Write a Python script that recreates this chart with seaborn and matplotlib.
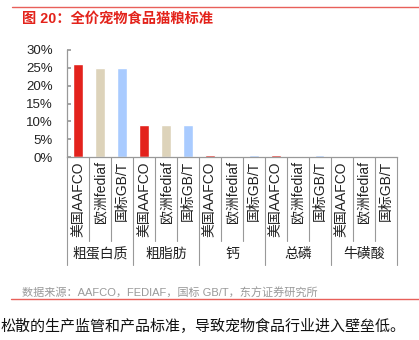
import matplotlib
matplotlib.use("Agg")
import matplotlib.pyplot as plt
import matplotlib.transforms as mtransforms
from matplotlib.ticker import PercentFormatter
import seaborn as sns
import pandas as pd

groups = ["粗蛋白质", "粗脂肪", "钙", "总磷", "牛磺酸"]
standards = ["美国AAFCO", "欧洲fediaf", "国标GB/T"]
protein = [26.0, 25.0, 25.0]
fat = [9.0, 9.0, 9.0]
calcium = [0.6, 0.3, 0.6]
phosphorus = [0.5, 0.26, 0.5]
taurine = [0.1, 0.1, 0.1]
yticks = [0, 5, 10, 15, 20, 25, 30]
colors = {"美国AAFCO": "#E3221C", "欧洲fediaf": "#DDD3BA", "国标GB/T": "#A9CBFF"}

values = [protein, fat, calcium, phosphorus, taurine]
rows = []
for g, vals in zip(groups, values):
    for s, v in zip(standards, vals):
        rows.append({"key": f"{g}|{s}", "group": g, "standard": s, "value": v})
df = pd.DataFrame(rows)

sns.set_theme(style="white")
plt.rcParams["font.family"] = ["Liberation Sans", "Noto Sans CJK SC", "DejaVu Sans"]

fig = plt.figure(figsize=(4.19, 3.40), dpi=100)
ax = fig.add_axes([0.160, 0.538, 0.787, 0.315])

sns.barplot(data=df, x="key", y="value", hue="standard", order=list(df["key"]),
            palette=colors, dodge=False, width=0.42, ax=ax, legend=False,
            saturation=1)

ax.set_ylim(0, 30)
ax.set_xlim(-0.5, len(df) - 0.5)
ax.set_yticks(yticks)
ax.yaxis.set_major_formatter(PercentFormatter(decimals=0))
ax.set_xlabel("")
ax.set_ylabel("")
ax.set_xticks(range(len(df)))
ax.set_xticklabels(df["standard"], rotation=90, fontsize=10, color="#222222")
ax.tick_params(axis="x", length=0, pad=3)
ax.tick_params(axis="y", direction="in", length=3, color="#999999", labelsize=9.5,
               labelcolor="#222222", pad=10, left=True)
for sp in ["top", "right"]:
    ax.spines[sp].set_visible(False)
for sp in ["left", "bottom"]:
    ax.spines[sp].set_color("#999999")
    ax.spines[sp].set_linewidth(0.9)

trans = mtransforms.blended_transform_factory(ax.transData, ax.transAxes)
n = len(df)
for i in range(n + 1):
    x = i - 0.5
    if i % 3 == 0:
        ax.plot([x, x], [0, -1.01], transform=trans, color="#999999", lw=0.8, clip_on=False)
    else:
        ax.plot([x, x], [0, -0.78], transform=trans, color="#999999", lw=0.8, clip_on=False)
for gi, g in enumerate(groups):
    ax.text(gi * 3 + 1, -0.90, g, transform=trans, ha="center", va="center",
            fontsize=10, color="#222222")

# header / footer
fig.add_artist(plt.Line2D([0.029, 1.0], [0.979, 0.979], color="#E8605A", lw=1.0))
fig.text(0.053, 0.946, "图 20：全价宠物食品猫粮标准", color="#E3231B", fontsize=10.3,
         fontweight="bold", ha="left", va="center")
fig.text(0.053, 0.138, "数据来源：AAFCO，FEDIAF，国标 GB/T，东方证券研究所", color="#999999",
         fontsize=8, ha="left", va="center")
fig.add_artist(plt.Line2D([0.026, 1.0], [0.120, 0.120], color="#E8605A", lw=1.0))
fig.text(0.002, 0.040, "松散的生产监管和产品标准，导致宠物食品行业进入壁垒低。", color="#111111",
         fontsize=10.8, ha="left", va="center")

fig.savefig("out.png", dpi=100)
